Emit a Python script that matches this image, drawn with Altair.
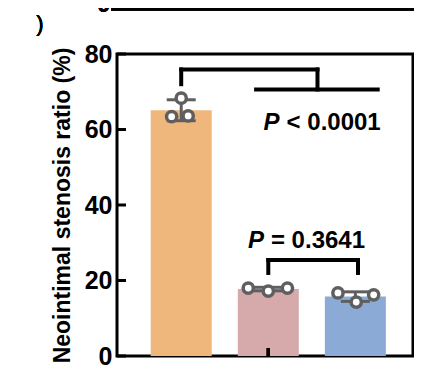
import altair as alt
import pandas as pd

# ---------------- data ----------------
groups = [1, 2, 3]
bar_colors = ["#F0B77D", "#D6AAAA", "#8BABD6"]
orange_values = [63.4, 68.3, 63.6]
pink_values = [18.0, 17.2, 18.0]
blue_values = [16.7, 14.3, 16.2]
point_jitter = [[-0.11, 0.0, 0.08], [-0.23, 0.0, 0.22], [-0.20, 0.01, 0.21]]
y_ticks = [0, 20, 40, 60, 80]
y_title = "Neointimal stenosis ratio (%)"

# significance brackets (segments in data units)
br_x = [1.0, 1.0, 2.565, 1.86, 2.0, 2.0, 3.03]
br_x2 = [1.0, 2.565, 2.565, 3.257, 3.03, 2.0, 3.03]
br_y = [72.0, 75.9, 75.9, 70.6, 25.4, 25.4, 25.4]
br_y2 = [75.9, 75.9, 70.6, 70.6, 25.4, 22.0, 22.0]

ann_x = [2.13, 1.95]
ann_y = [59.9, 28.6]
ann_p = ["P", "P"]
ann_rest = ["< 0.0001", "= 0.3641"]

FONT = "Liberation Sans"
GRAY = "#5F5F5F"

# ---------------- tables ----------------
all_vals = [orange_values, pink_values, blue_values]
rows = []
for g, vals, jit, col in zip(groups, all_vals, point_jitter, bar_colors):
    for v, j in zip(vals, jit):
        rows.append({"group": g, "value": v, "px": g + j, "color": col})
points = pd.DataFrame(rows)

summ = points.groupby("group").agg(mean=("value", "mean"), sd=("value", "std")).reset_index()
summ["color"] = bar_colors
summ["lo"] = summ["mean"] - summ["sd"]
summ["hi"] = summ["mean"] + summ["sd"]
half_cap = 30 / 90.12 / 2
caps = pd.concat([
    pd.DataFrame({"x": summ["group"] - half_cap, "x2": summ["group"] + half_cap, "y": summ["lo"]}),
    pd.DataFrame({"x": summ["group"] - half_cap, "x2": summ["group"] + half_cap, "y": summ["hi"]}),
])

brackets = pd.DataFrame({"x": br_x, "x2": br_x2, "y": br_y, "y2": br_y2})
ann = pd.DataFrame({"x": ann_x, "y": ann_y, "p": ann_p, "rest": ann_rest})
ticks = pd.DataFrame({"t": y_ticks})

W = 296
xs = alt.Scale(domain=[0.32, 0.32 + W / 90.12], nice=False, zero=False)
ys = alt.Scale(domain=[0, 80], nice=False)

bars = alt.Chart(summ).mark_bar(size=61).encode(
    x=alt.X("group:Q", scale=xs, axis=None),
    y=alt.Y("mean:Q", scale=ys, axis=alt.Axis(
        values=y_ticks, tickSize=0, domain=False, grid=False,
        labelFont=FONT, labelFontSize=25, labelFontWeight="bold", labelColor="black",
        labelPadding=5, title=y_title, titleFont=FONT, titleFontSize=23,
        titleFontWeight="bold", titleColor="black", titleX=-55, titleY=151,
        titleAlign="center", titleBaseline="middle", titleAngle=270)),
    color=alt.Color("color:N", scale=None),
)

err = alt.Chart(summ).mark_rule(color=GRAY, strokeWidth=3).encode(
    x=alt.X("group:Q", scale=xs), y=alt.Y("lo:Q", scale=ys), y2="hi:Q")
cap = alt.Chart(caps).mark_rule(color=GRAY, strokeWidth=3).encode(
    x=alt.X("x:Q", scale=xs), x2="x2:Q", y=alt.Y("y:Q", scale=ys))
dots = alt.Chart(points).mark_circle(size=105, fill="white", stroke=GRAY,
                                     strokeWidth=3.5, opacity=1).encode(
    x=alt.X("px:Q", scale=xs), y=alt.Y("value:Q", scale=ys))

br = alt.Chart(brackets).mark_rule(color="black", strokeWidth=4, strokeCap="square").encode(
    x=alt.X("x:Q", scale=xs), x2="x2:Q", y=alt.Y("y:Q", scale=ys), y2="y2:Q")

p_txt = alt.Chart(ann).mark_text(font=FONT, fontSize=24, fontWeight="bold", fontStyle="italic",
                                 align="right", baseline="alphabetic", color="black").encode(
    x=alt.X("x:Q", scale=xs), y=alt.Y("y:Q", scale=ys), text="p:N")
rest_txt = alt.Chart(ann).mark_text(font=FONT, fontSize=24, fontWeight="bold", dx=7,
                                    align="left", baseline="alphabetic", color="black").encode(
    x=alt.X("x:Q", scale=xs), y=alt.Y("y:Q", scale=ys), text="rest:N")

ytick = alt.Chart(ticks).mark_rule(color="black", strokeWidth=3).encode(
    y=alt.Y("t:Q", scale=ys), x=alt.value(0), x2=alt.value(9))
xtick = alt.Chart(ticks).mark_rule(color="black", strokeWidth=3).encode(
    x=alt.datum(2), y=alt.datum(0), y2=alt.datum(2.1))

# fragments of the neighbouring panels (cropped in the original)
top_line = alt.Chart(ticks).mark_rule(color="black", strokeWidth=3).encode(
    x=alt.value(-6), x2=alt.value(W + 2), y=alt.value(-45))
top_zero = alt.Chart(ticks).mark_text(font=FONT, fontSize=23, fontWeight="bold",
                                      align="right", baseline="alphabetic", color="black").encode(
    x=alt.value(-7), y=alt.value(-42), text=alt.value("0"))
paren = alt.Chart(ticks).mark_text(font=FONT, fontSize=22, align="center",
                                   baseline="middle", color="black").encode(
    x=alt.value(-77), y=alt.value(-30), text=alt.value(")"))

chart = alt.layer(bars, err, cap, dots, br, p_txt, rest_txt, ytick, xtick,
                  top_line, top_zero, paren).properties(
    width=W, height=302,
    autosize=alt.AutoSizeParams(type="none"),
    padding={"left": 109, "top": 46, "right": 1, "bottom": 12},
).configure_view(stroke="black", strokeWidth=3)

chart.save("out.html", embed_options={"renderer": "svg", "actions": False})
